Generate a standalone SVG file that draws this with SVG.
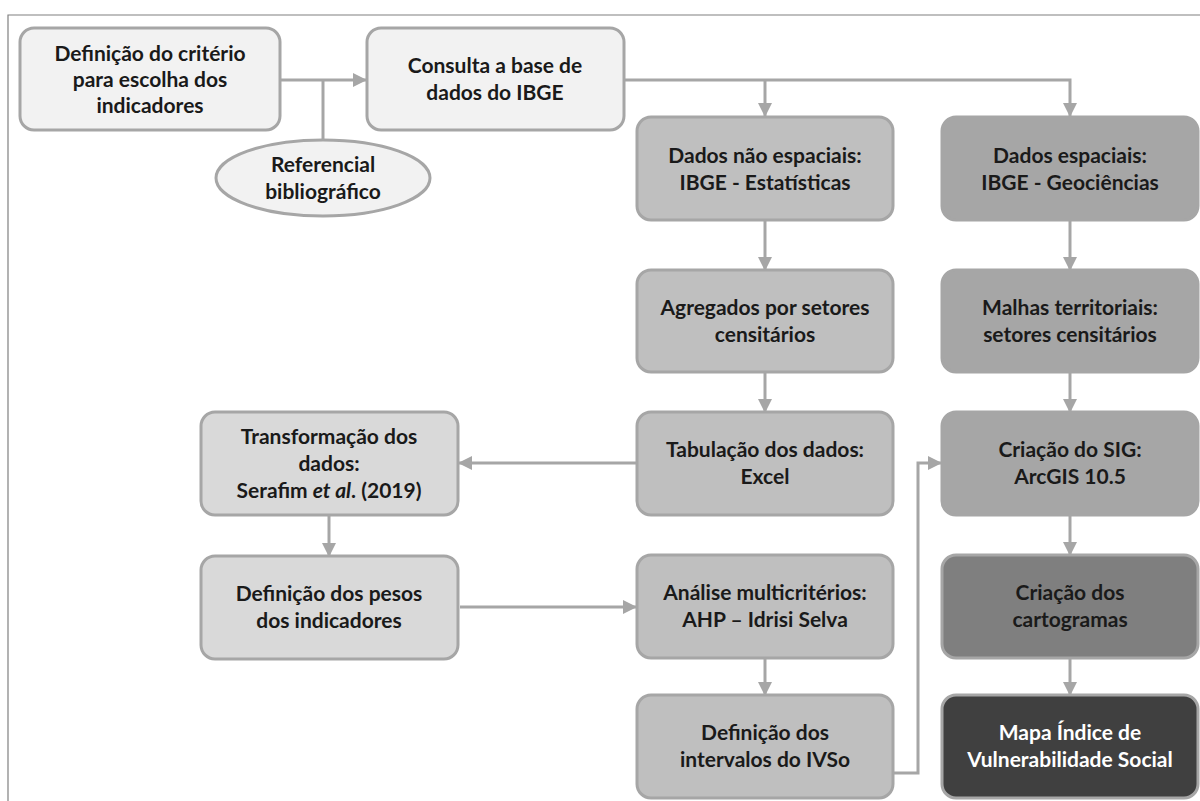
<svg xmlns="http://www.w3.org/2000/svg" width="1200" height="801" viewBox="0 0 1200 801">
<style>
.t{font-family:Lato,"Liberation Sans",sans-serif;font-weight:700;font-size:21px;fill:#1a1a1a;text-anchor:middle}
.w{fill:#ffffff}
.b{stroke:#a6a6a6;stroke-width:3}
.c{fill:none;stroke:#a6a6a6;stroke-width:3}
.l0{fill:#f2f2f2}.l1{fill:#d9d9d9}.l2{fill:#bfbfbf}.l3{fill:#a6a6a6}.l4{fill:#7f7f7f}.l5{fill:#404040}
</style>
<defs>
<marker id="ah" markerUnits="userSpaceOnUse" markerWidth="14" markerHeight="14" viewBox="0 0 14 14" refX="13" refY="7" orient="auto">
<path d="M0,0 L14,7 L0,14 Z" fill="#a6a6a6"/>
</marker>
</defs>
<rect width="1200" height="801" fill="#ffffff"/>
<path d="M8,801 V15 H1200" fill="none" stroke="#808080" stroke-width="1.2"/>
<g id="connectors">
<path class="c" d="M280,80 H366" marker-end="url(#ah)"/>
<path class="c" d="M323,80 V140"/>
<path class="c" d="M624,80 H1070 V116" marker-end="url(#ah)"/>
<path class="c" d="M765,80 V116" marker-end="url(#ah)"/>
<path class="c" d="M765,220 V270" marker-end="url(#ah)"/>
<path class="c" d="M765,372 V412" marker-end="url(#ah)"/>
<path class="c" d="M1070,220 V270" marker-end="url(#ah)"/>
<path class="c" d="M1070,372 V412" marker-end="url(#ah)"/>
<path class="c" d="M1070,515 V555" marker-end="url(#ah)"/>
<path class="c" d="M1070,658 V695" marker-end="url(#ah)"/>
<path class="c" d="M637,463 H459" marker-end="url(#ah)"/>
<path class="c" d="M329,515 V556" marker-end="url(#ah)"/>
<path class="c" d="M460,607 H636" marker-end="url(#ah)"/>
<path class="c" d="M765,658 V695" marker-end="url(#ah)"/>
<path class="c" d="M893,773 H918 V463 H941" marker-end="url(#ah)"/>
</g>
<g id="n1"><rect class="b l0" x="20" y="28" width="260" height="102" rx="14"/>
<text class="t" x="150" y="61">Definição do critério</text><text class="t" x="150" y="87">para escolha dos</text><text class="t" x="150" y="113">indicadores</text></g>
<g id="n2"><rect class="b l0" x="367" y="28" width="257" height="102" rx="14"/>
<text class="t" x="495" y="73">Consulta a base de</text><text class="t" x="495" y="100">dados do IBGE</text></g>
<g id="n3"><ellipse class="b l0" cx="323" cy="178" rx="107" ry="38"/>
<text class="t" x="323" y="172">Referencial</text><text class="t" x="323" y="199">bibliográfico</text></g>
<g id="n4"><rect class="b l2" x="637" y="117" width="256" height="103" rx="14"/>
<text class="t" x="765" y="163">Dados não espaciais:</text><text class="t" x="765" y="190">IBGE - Estatísticas</text></g>
<g id="n5"><rect class="b l3" x="942" y="117" width="256" height="103" rx="14"/>
<text class="t" x="1070" y="163">Dados espaciais:</text><text class="t" x="1070" y="190">IBGE - Geociências</text></g>
<g id="n6"><rect class="b l2" x="637" y="270" width="256" height="102" rx="14"/>
<text class="t" x="765" y="315">Agregados por setores</text><text class="t" x="765" y="342">censitários</text></g>
<g id="n7"><rect class="b l3" x="942" y="270" width="256" height="102" rx="14"/>
<text class="t" x="1070" y="315">Malhas territoriais:</text><text class="t" x="1070" y="342">setores censitários</text></g>
<g id="n8"><rect class="b l2" x="637" y="412" width="256" height="103" rx="14"/>
<text class="t" x="765" y="457">Tabulação dos dados:</text><text class="t" x="765" y="484">Excel</text></g>
<g id="n9"><rect class="b l3" x="942" y="412" width="256" height="103" rx="14"/>
<text class="t" x="1070" y="457">Criação do SIG:</text><text class="t" x="1070" y="484">ArcGIS 10.5</text></g>
<g id="n10"><rect class="b l1" x="201" y="412" width="257" height="103" rx="14"/>
<text class="t" x="329" y="444">Transformação dos</text><text class="t" x="329" y="471">dados:</text><text class="t" x="329" y="498">Serafim <tspan font-style="italic">et al</tspan>. (2019)</text></g>
<g id="n11"><rect class="b l1" x="201" y="556" width="257" height="103" rx="14"/>
<text class="t" x="329" y="601">Definição dos pesos</text><text class="t" x="329" y="628">dos indicadores</text></g>
<g id="n12"><rect class="b l2" x="637" y="555" width="256" height="103" rx="14"/>
<text class="t" x="765" y="600">Análise multicritérios:</text><text class="t" x="765" y="627">AHP – Idrisi Selva</text></g>
<g id="n13"><rect class="b l4" x="942" y="555" width="256" height="103" rx="14"/>
<text class="t" x="1070" y="600">Criação dos</text><text class="t" x="1070" y="627">cartogramas</text></g>
<g id="n14"><rect class="b l2" x="637" y="695" width="256" height="103" rx="14"/>
<text class="t" x="765" y="740">Definição dos</text><text class="t" x="765" y="767">intervalos do IVSo</text></g>
<g id="n15"><rect class="b l5" x="942" y="695" width="256" height="103" rx="14"/>
<text class="t w" x="1070" y="740">Mapa Índice de</text><text class="t w" x="1070" y="767">Vulnerabilidade Social</text></g>
</svg>
